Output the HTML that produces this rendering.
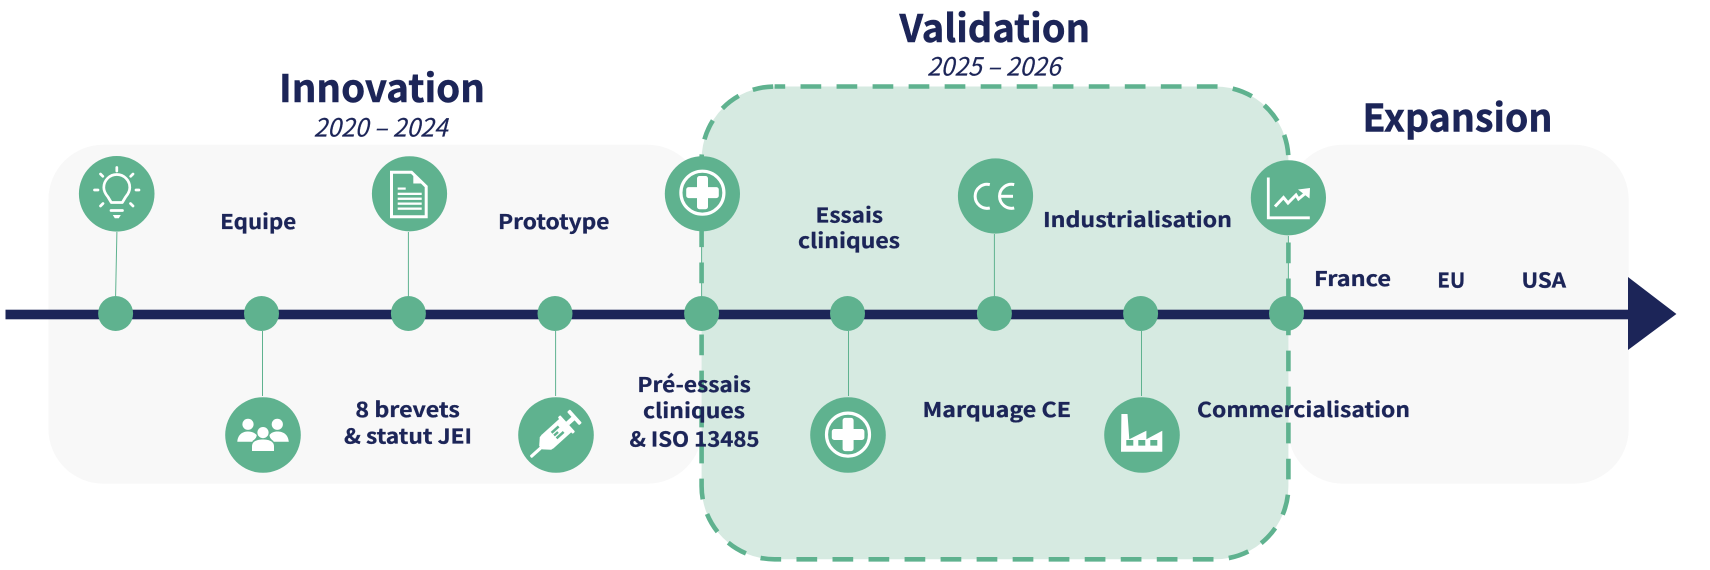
<!DOCTYPE html>
<html lang="fr">
<head>
<meta charset="utf-8">
<title>Timeline</title>
<style>
html,body{margin:0;padding:0;background:#fff;width:1710px;height:570px;overflow:hidden}
svg{display:block}
.t{font-family:"Noto Sans CJK SC","Liberation Sans",sans-serif;font-weight:700;fill:#1c2558;stroke:#1c2558}
.l{font-size:20.5px;stroke-width:.3}
.h{font-size:38px;stroke-width:.5}
.y{font-family:"Noto Sans CJK SC","Liberation Sans",sans-serif;font-style:italic;font-size:25px;font-weight:400;fill:#1c2558;stroke:#1c2558;stroke-width:.2}
.c{stroke:#5fb28f;stroke-width:1;fill:none}
.g{fill:#5fb28f}
.w{fill:#fff}
.s{stroke:#fff;fill:none}
</style>
</head>
<body>
<svg xmlns="http://www.w3.org/2000/svg" width="1710" height="570" viewBox="0 0 1710 570">
<rect x="48.4" y="144.7" width="654" height="339" rx="55" fill="#f8f8f8"/>
<rect x="1288" y="144.7" width="340.7" height="339" rx="55" fill="#f8f8f8"/>
<rect x="701.6" y="86.5" width="586.8" height="472.8" rx="73" fill="#d6eae1" stroke="#5fb28f" stroke-width="4.6" stroke-dasharray="20.7 15.33" stroke-dashoffset="10.1"/>

<rect x="5.5" y="309.7" width="1623" height="9.6" fill="#1c2558"/>
<polygon points="1628,277 1676.4,314 1628,350" fill="#1c2558"/>

<!-- connectors -->
<line class="c" x1="116.9" y1="232" x2="115.6" y2="296"/>
<line class="c" x1="408.4" y1="232" x2="408.4" y2="296"/>
<line class="c" x1="262.5" y1="331" x2="262.5" y2="396"/>
<line class="c" x1="555.6" y1="331" x2="555.6" y2="396"/>
<line class="c" x1="701.6" y1="232" x2="701.6" y2="296"/>
<line class="c" x1="848.5" y1="331" x2="848.5" y2="396"/>
<line class="c" x1="994.4" y1="234" x2="994.4" y2="296"/>
<line class="c" x1="1141.5" y1="331" x2="1141.5" y2="396"/>
<line class="c" x1="1288.4" y1="236" x2="1288.4" y2="296"/>

<!-- small nodes -->
<circle class="g" cx="115.6" cy="313.5" r="17.5"/>
<circle class="g" cx="261.5" cy="313.5" r="17.5"/>
<circle class="g" cx="408.4" cy="313.5" r="17.5"/>
<circle class="g" cx="555" cy="313.5" r="17.5"/>
<circle class="g" cx="701.6" cy="313.5" r="17.5"/>
<circle class="g" cx="847.5" cy="313.5" r="17.5"/>
<circle class="g" cx="994.4" cy="313.5" r="17.5"/>
<circle class="g" cx="1140.6" cy="313.5" r="17.5"/>
<circle class="g" cx="1286.5" cy="313.5" r="17.5"/>

<!-- big nodes -->
<circle class="g" cx="116.7" cy="193.8" r="37.8"/>
<circle class="g" cx="409.5" cy="193.8" r="37.6"/>
<circle class="g" cx="263" cy="435" r="37.8"/>
<circle class="g" cx="556" cy="435" r="37.8"/>
<circle class="g" cx="702.4" cy="193.8" r="37.6"/>
<circle class="g" cx="848" cy="435" r="37.8"/>
<circle class="g" cx="995.5" cy="196" r="37.6"/>
<circle class="g" cx="1142" cy="435" r="37.8"/>
<circle class="g" cx="1288.4" cy="197.8" r="37.6"/>

<!-- bulb -->
<g class="s" stroke-width="2.7" stroke-linecap="round" stroke-linejoin="round">
<path d="M111.3 202.5 L108 197 C105 193.5 103.8 191 103.8 187.5 A13 13 0 0 1 129.8 187.5 C129.8 191 128.6 193.5 125.6 197 L122.3 202.5 Z"/>
<line x1="116.8" y1="167.5" x2="116.8" y2="171"/>
<line x1="100.5" y1="174" x2="102.8" y2="176.3"/>
<line x1="133" y1="174" x2="130.7" y2="176.3"/>
<line x1="94.5" y1="190" x2="98" y2="190"/>
<line x1="136" y1="190" x2="139" y2="190"/>
<line x1="100.5" y1="206" x2="103" y2="203.5"/>
<line x1="133" y1="206" x2="130.5" y2="203.5"/>
<line x1="111" y1="210.5" x2="122.5" y2="210.5"/>
</g>
<path class="w" d="M112.8 215 L120.8 215 L118.8 218.3 L114.8 218.3 Z"/>

<!-- document -->
<path class="s" stroke-width="3" d="M391.5 172.2 L411.5 172.2 L426.2 186.5 L426.2 216.8 L391.5 216.8 Z"/>
<polygon class="w" points="413.3,175 413.3,183.5 422,183.5"/>
<g class="w">
<rect x="397.7" y="187.5" width="8" height="2.2"/>
<rect x="397.7" y="192.7" width="24" height="2.3"/>
<rect x="397.7" y="197.6" width="24" height="2.3"/>
<rect x="397.7" y="202.5" width="24" height="2.3"/>
<rect x="397.7" y="207.5" width="24" height="2.3"/>
</g>

<!-- people -->
<g class="w">
<circle cx="248" cy="424.3" r="5.6"/>
<circle cx="277.3" cy="424.3" r="5.6"/>
<circle cx="263" cy="432.6" r="5.6"/>
<path d="M237.3 441.7 C238 434 243 431.5 248 431.5 C251.5 431.5 254.5 432.5 256.7 435 C256.7 438 254 440 252.5 441 L252.5 441.7 Z"/>
<path d="M288.8 441.7 C288 434 283 431.5 277.3 431.5 C274 431.5 271.5 432.5 269.5 435 C269.5 438 272 440 273.5 441 L273.5 441.7 Z"/>
<path d="M252 451 L252 446.5 C252 441 257.5 439.5 263 439.5 C268.5 439.5 274 441 274 446.5 L274 451 Z"/>
</g>

<!-- syringe -->
<g transform="translate(556.5 433.5) rotate(-42) scale(1.06)">
<rect x="-33" y="-1.3" width="16" height="3" class="w" rx="1"/>
<polygon class="w" points="-20,-2.2 -14,-8 -11,-8.5 -11,8.5 -14,8 -20,2.2"/>
<rect x="-11.5" y="-8.5" width="23" height="17" class="w"/>
<rect x="-3" y="-4.8" width="9" height="2.4" class="g"/>
<rect x="-3" y="-1.2" width="5" height="2.2" class="g"/>
<rect x="-3" y="2.2" width="9" height="2.4" class="g"/>
<rect x="11" y="-10.5" width="3.2" height="21" class="w" rx="1"/>
<rect x="14" y="-2.2" width="8" height="4.4" class="w"/>
<rect x="21" y="-8.5" width="3.6" height="17" class="w" rx="1"/>
</g>

<!-- plus 1 -->
<circle class="s" cx="702.4" cy="192.7" r="21.5" stroke-width="3.2"/>
<path class="w" d="M697 178.5 a2.5 2.5 0 0 1 2.5 -2.5 h6 a2.5 2.5 0 0 1 2.5 2.5 v8.6 h8.3 a2.5 2.5 0 0 1 2.5 2.5 v6 a2.5 2.5 0 0 1 -2.5 2.5 h-8.3 v8.6 a2.5 2.5 0 0 1 -2.5 2.5 h-6 a2.5 2.5 0 0 1 -2.5 -2.5 v-8.6 h-8.3 a2.5 2.5 0 0 1 -2.5 -2.5 v-6 a2.5 2.5 0 0 1 2.5 -2.5 h8.3 Z"/>
<!-- plus 2 -->
<circle class="s" cx="848" cy="434.6" r="21.5" stroke-width="3.2"/>
<path class="w" transform="translate(145.6 241.9)" d="M697 178.5 a2.5 2.5 0 0 1 2.5 -2.5 h6 a2.5 2.5 0 0 1 2.5 2.5 v8.6 h8.3 a2.5 2.5 0 0 1 2.5 2.5 v6 a2.5 2.5 0 0 1 -2.5 2.5 h-8.3 v8.6 a2.5 2.5 0 0 1 -2.5 2.5 h-6 a2.5 2.5 0 0 1 -2.5 -2.5 v-8.6 h-8.3 a2.5 2.5 0 0 1 -2.5 -2.5 v-6 a2.5 2.5 0 0 1 2.5 -2.5 h8.3 Z"/>

<!-- CE -->
<g class="s" stroke-width="3">
<path d="M989.8 184.6 A12 12 0 1 0 989.8 208"/>
<path d="M1014.2 184.6 A12 12 0 1 0 1014.2 208"/>
<line x1="1001" y1="196.3" x2="1013" y2="196.3"/>
</g>

<!-- factory -->
<path class="w" fill-rule="evenodd" d="M1121 451.7 L1121.4 414 L1127.5 414 L1129.3 439.3 L1146.4 430.7 L1146.4 439.3 L1162.3 430.7 L1162.3 451.7 Z M1126.3 445.6 h7 v-5.6 h-7 Z M1138.3 445.6 h7 v-5.6 h-7 Z M1150.3 445.6 h7 v-5.6 h-7 Z"/>

<!-- chart -->
<path class="s" stroke-width="2.8" d="M1268.3 177.5 L1268.3 217.8 L1309.8 217.8"/>
<path class="s" stroke-width="3" d="M1275 206.5 L1283.5 197.5 L1288 203 L1296 195 L1298.5 199 L1307 192"/>
<polygon class="w" points="1298,189.5 1310,188 1309.5,198.5"/>

<!-- headings -->
<text class="t h" x="279" y="101.8" textLength="206" lengthAdjust="spacingAndGlyphs">Innovation</text>
<text class="y" x="313.6" y="136.4" textLength="134" lengthAdjust="spacingAndGlyphs">2020 – 2024</text>
<text class="t h" x="899.5" y="41.8" textLength="190.5" lengthAdjust="spacingAndGlyphs">Validation</text>
<text class="y" x="927" y="75.6" textLength="133.5" lengthAdjust="spacingAndGlyphs">2025 – 2026</text>
<text class="t h" x="1362.5" y="131.6" textLength="190" lengthAdjust="spacingAndGlyphs">Expansion</text>

<!-- labels -->
<text class="t l" x="220.2" y="229" textLength="76" lengthAdjust="spacingAndGlyphs">Equipe</text>
<text class="t l" x="498" y="229" textLength="111.5" lengthAdjust="spacingAndGlyphs">Prototype</text>
<text class="t l" x="355.4" y="417" textLength="104.5" lengthAdjust="spacingAndGlyphs">8 brevets</text>
<text class="t l" x="344" y="443.6" textLength="128" lengthAdjust="spacingAndGlyphs">&amp; statut JEI</text>
<text class="t l" x="637.4" y="392" textLength="113.5" lengthAdjust="spacingAndGlyphs">Pré-essais</text>
<text class="t l" x="643" y="418" textLength="102" lengthAdjust="spacingAndGlyphs">cliniques</text>
<text class="t l" x="629.5" y="446.5" textLength="130" lengthAdjust="spacingAndGlyphs">&amp; ISO 13485</text>
<text class="t l" x="815.5" y="222.5" textLength="67.5" lengthAdjust="spacingAndGlyphs">Essais</text>
<text class="t l" x="798" y="248" textLength="102" lengthAdjust="spacingAndGlyphs">cliniques</text>
<text class="t l" x="922.5" y="417" textLength="148.5" lengthAdjust="spacingAndGlyphs">Marquage CE</text>
<text class="t l" x="1043" y="227" textLength="189" lengthAdjust="spacingAndGlyphs">Industrialisation</text>
<text class="t l" x="1197" y="417" textLength="213" lengthAdjust="spacingAndGlyphs">Commercialisation</text>
<text class="t l" x="1314" y="286" textLength="77" lengthAdjust="spacingAndGlyphs">France</text>
<text class="t l" x="1437.2" y="287.6" textLength="28" lengthAdjust="spacingAndGlyphs">EU</text>
<text class="t l" x="1521.5" y="287.6" textLength="44.5" lengthAdjust="spacingAndGlyphs">USA</text>
</svg>
</body>
</html>
